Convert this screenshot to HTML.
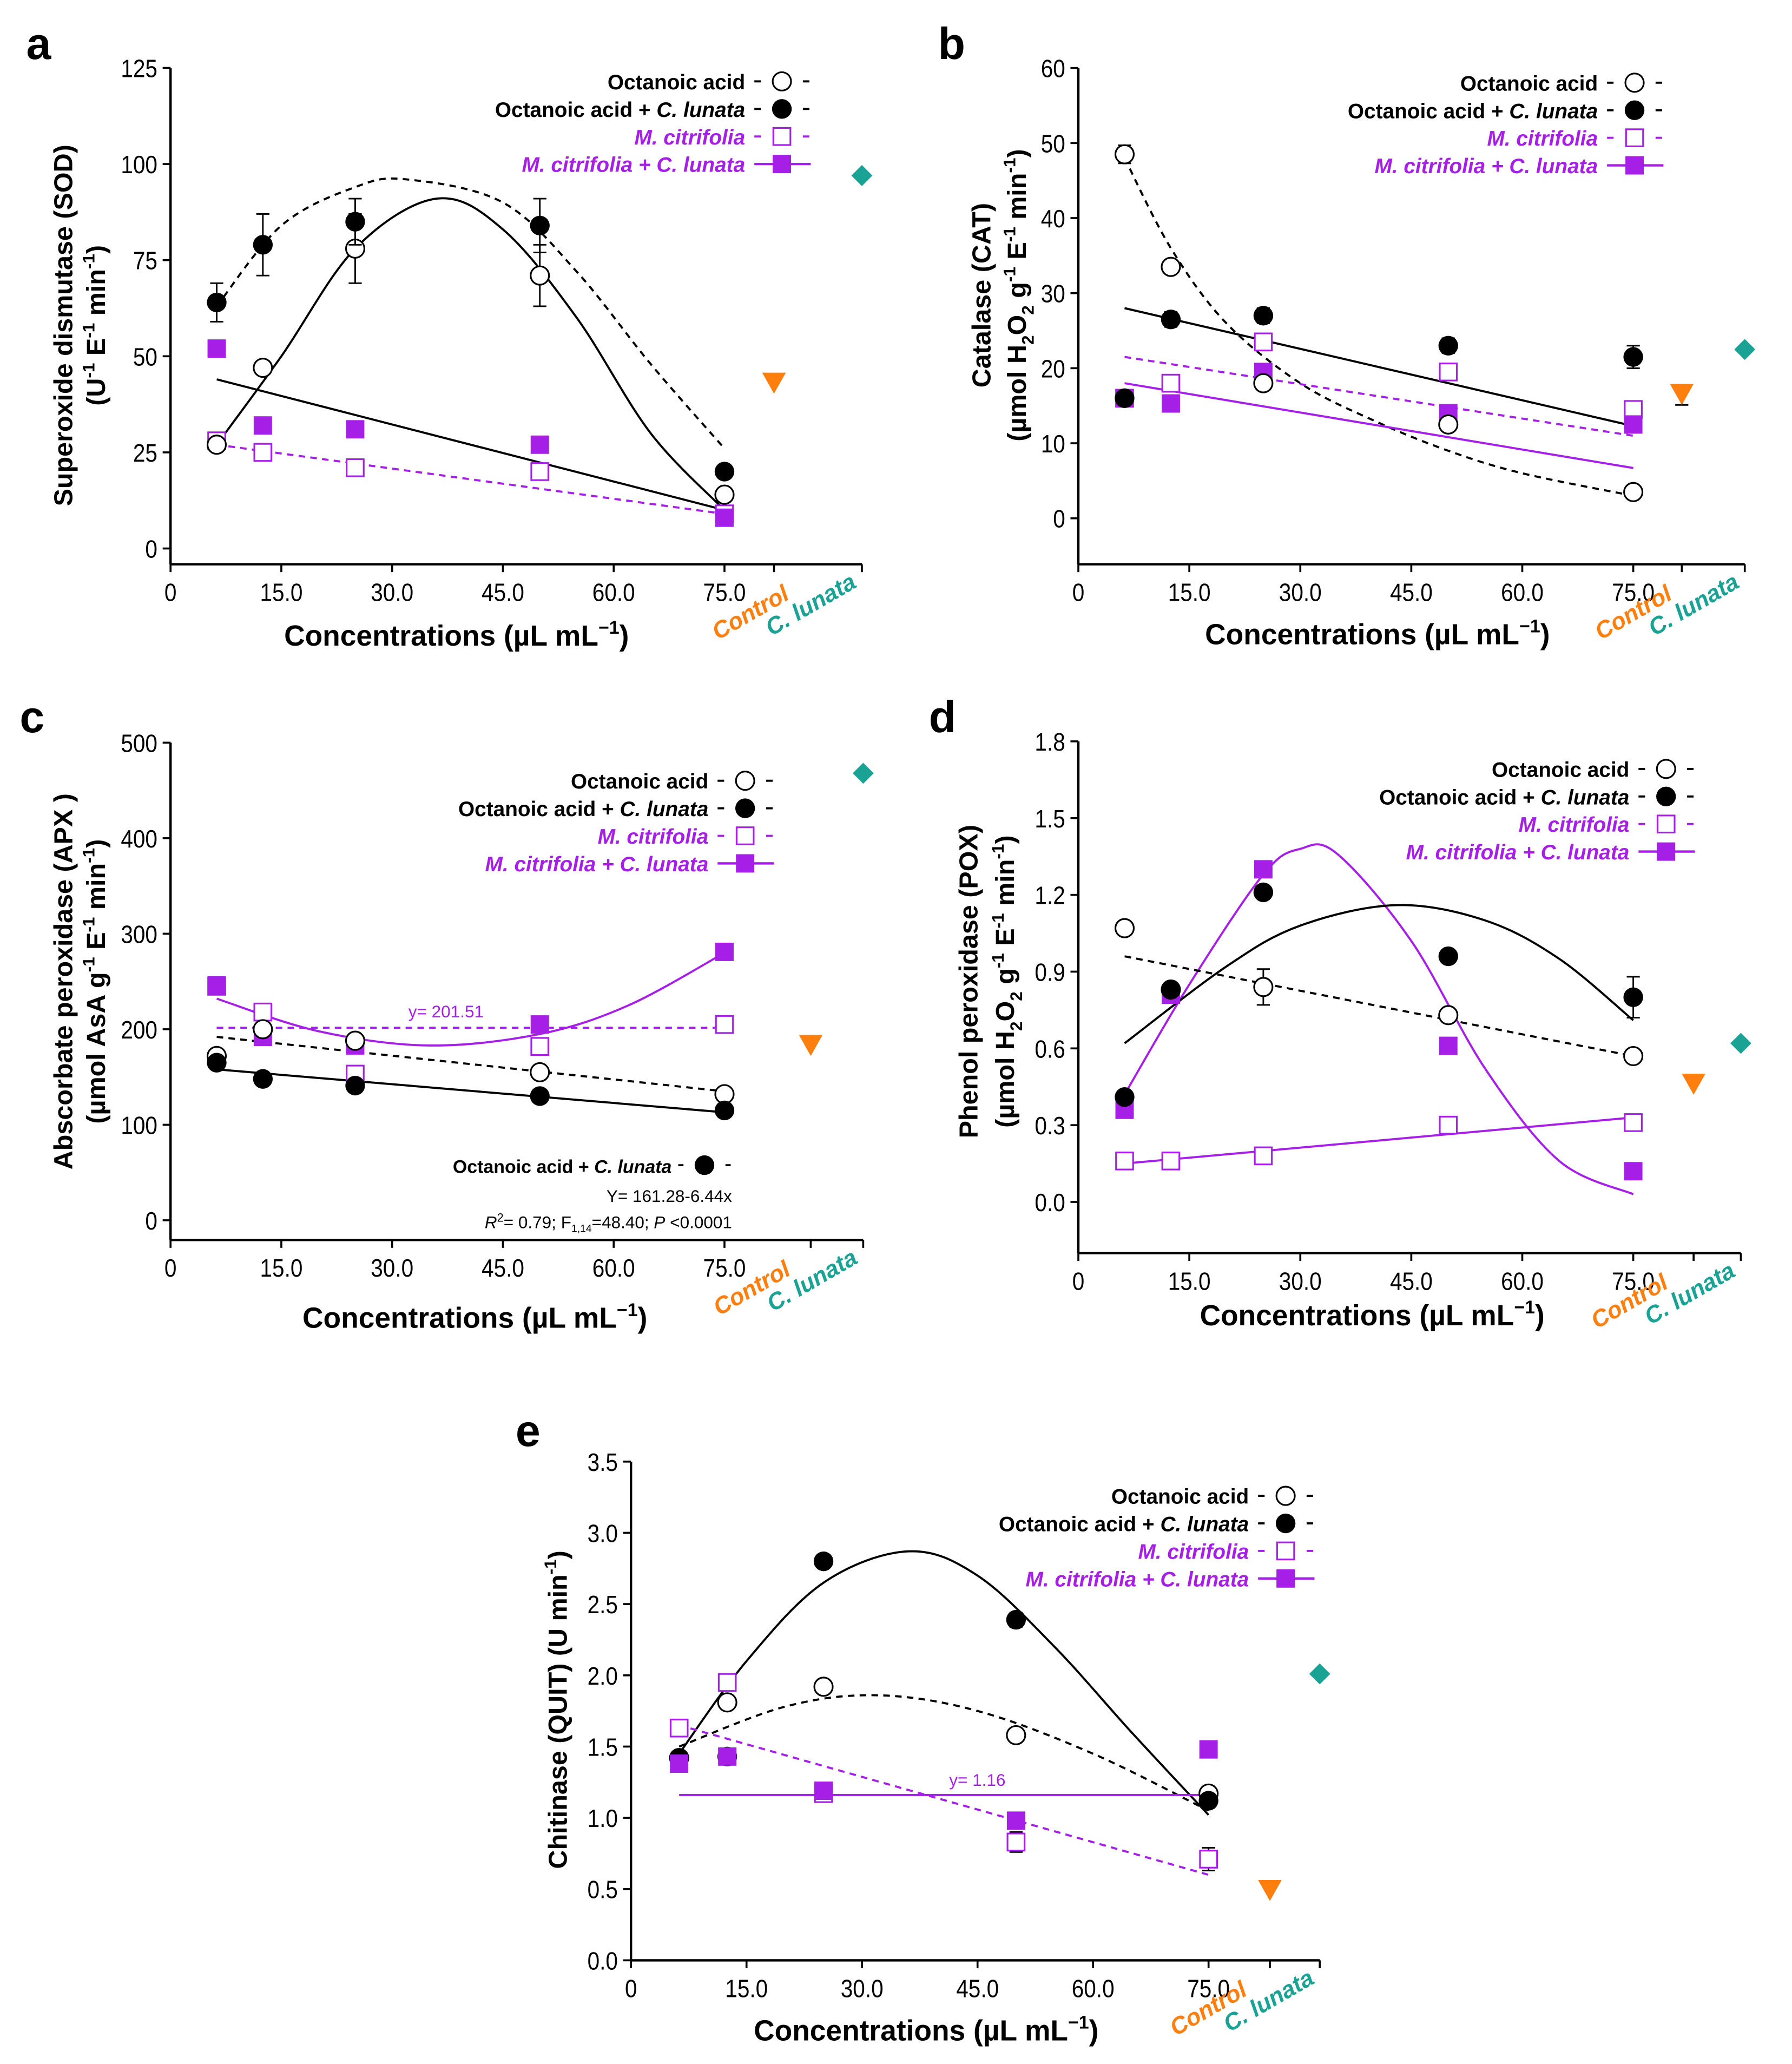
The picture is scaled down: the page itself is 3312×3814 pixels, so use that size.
<!DOCTYPE html>
<html><head><meta charset="utf-8"><style>
html,body{margin:0;padding:0;background:#fff}
svg{display:block}
text{font-family:"Liberation Sans",sans-serif}
</style></head><body>
<svg id="fig" xmlns="http://www.w3.org/2000/svg" width="3312" height="3814" viewBox="0 0 1366 1573">
<rect width="1366" height="1573" fill="#fff"/>
</svg>
<script>
const NS='http://www.w3.org/2000/svg';
const svg=document.getElementById('fig');
const PUR='#a61fe6', ORA='#ff7f0e', TEAL='#1aa394';
const concX=[6.25,12.5,25,50,75];

// ---- Panel a data ----
const aOA=[27,47,78,71,14], aOAe=[0,0,9,8,0];
const aOACL=[64,79,85,84,20], aOACLe=[5,8,6,7,0];
const aMC=[28,25,21,20,9];
const aMCCL=[52,32,31,27,8];
const aCtrl=43, aLun=97;
const aFitDashX=[6.25,15,25,32,45,55,65,75], aFitDashY=[63,84,94,96,90,72,48,26];
const aFitSolidX=[6.25,15,25,36,45,55,65,75], aFitSolidY=[27,50,78,91,83,60,30,10];
const aLinSolid=[44,10], aLinDash=[27,9];
const aYticks=[0,25,50,75,100,125];
// ---- Panel b data ----
const bOA=[48.5,33.5,18,12.5,3.5], bOAe=[1.2,0,0,0,0];
const bOACL=[16,26.5,27,23,21.5], bOACLe=[0,1,1,1,1.5];
const bMC=[16,18,23.5,19.5,14.5];
const bMCCL=[16,15.3,19.5,14,12.5];
const bCtrl=16.5, bLun=22.5;
const bFitDashX=[6.25,12.5,20,30,40,50,60,75], bFitDashY=[48,36,26,18,13,9,6,3];
const bLinBlack=[28,12.3], bLinPurDash=[21.5,11], bLinPurSolid=[18,6.7];
const bYticks=[0,10,20,30,40,50,60];
// ---- Panel c data ----
const cOA=[172,200,188,155,132];
const cOACL=[165,148,141,130,115];
const cMC=[245,218,153,182,205];
const cMCCL=[246,192,183,205,281];
const cCtrl=183, cLun=468;
const cFitPurX=[6.25,20,35,50,62,75], cFitPurY=[232,198,183,195,225,280];
const cHoriz=201.51, cLinDash=[192,135], cLinSolid=[158,113];
const cYticks=[0,100,200,300,400,500];
// ---- Panel d data ----
const dOA=[1.07,0.83,0.84,0.73,0.57], dOAe=[0,0,0.07,0,0];
const dOACL=[0.41,0.83,1.21,0.96,0.80], dOACLe=[0,0,0,0,0.08];
const dMC=[0.16,0.16,0.18,0.30,0.31];
const dMCCL=[0.36,0.81,1.30,0.61,0.12];
const dCtrl=0.46, dLun=0.62;
const dFitPurX=[6.25,15,25,30,35,45,55,65,75], dFitPurY=[0.42,0.85,1.28,1.38,1.36,1.02,0.52,0.16,0.03];
const dFitBlkX=[6.25,20,30,43,55,65,75], dFitBlkY=[0.62,0.92,1.08,1.16,1.10,0.95,0.71];
const dLinDash=[0.96,0.57], dLinPur=[0.15,0.33];
const dYticks=[0,0.3,0.6,0.9,1.2,1.5,1.8];
// ---- Panel e data ----
const eOA=[1.42,1.81,1.92,1.58,1.17];
const eOACL=[1.42,1.43,2.80,2.39,1.12], eOACLe=[0,0,0,0.05,0.05];
const eMC=[1.63,1.95,1.17,0.83,0.71], eMCe=[0,0,0.04,0.07,0.08];
const eMCCL=[1.38,1.43,1.19,0.98,1.48];
const eCtrl=0.49, eLun=2.01;
const eFitBlkX=[6.25,15,25,36,45,55,65,75], eFitBlkY=[1.45,2.1,2.65,2.87,2.7,2.2,1.6,1.02];
const eFitDashX=[6.25,20,32,45,60,75], eFitDashY=[1.5,1.78,1.86,1.75,1.45,1.05];
const eLinPurDash=[1.65,0.6], eHoriz=1.16;
const eYticks=[0,0.5,1.0,1.5,2.0,2.5,3.0,3.5];
const xTickVals=[0,15,30,45,60,75];
const xTickLabels=['0','15.0','30.0','45.0','60.0','75.0'];

function el(tag,attrs,parent){const e=document.createElementNS(NS,tag);for(const k in attrs)e.setAttribute(k,attrs[k]);(parent||svg).appendChild(e);return e;}
function txt(s,attrs,parent){const e=el('text',attrs,parent);e.innerHTML=s;return e;}

function smooth(pts){let d='M'+pts[0][0]+','+pts[0][1];for(let i=0;i<pts.length-1;i++){const p0=pts[Math.max(0,i-1)],p1=pts[i],p2=pts[i+1],p3=pts[Math.min(pts.length-1,i+2)];const c1=[p1[0]+(p2[0]-p0[0])/6,p1[1]+(p2[1]-p0[1])/6],c2=[p2[0]-(p3[0]-p1[0])/6,p2[1]-(p3[1]-p1[1])/6];d+=' C'+c1+' '+c2+' '+p2;}return d;}

function marker(g,type,x,y,name){
  let m;
  if(type==='oc'){m=el('circle',{cx:x,cy:y,r:7,fill:'#fff',stroke:'#000','stroke-width':1.3},g);}
  else if(type==='fc'){m=el('circle',{cx:x,cy:y,r:7.5,fill:'#000'},g);}
  else if(type==='os'){m=el('rect',{x:x-6.5,y:y-6.5,width:13,height:13,fill:'#fff',stroke:PUR,'stroke-width':1.3},g);}
  else if(type==='fs'){m=el('rect',{x:x-7,y:y-7,width:14,height:14,fill:PUR},g);}
  else if(type==='tri'){m=el('path',{d:`M${x-9},${y-8} L${x+9},${y-8} L${x},${y+8} Z`,fill:ORA},g);}
  else if(type==='dia'){m=el('path',{d:`M${x},${y-8} L${x+8},${y} L${x},${y+8} L${x-8},${y} Z`,fill:TEAL},g);}
  
  
  return m;
}

function panel(c){
  const g=el('g',{});
  
  
  const X=v=>c.x0+v*c.xs, Y=v=>c.y0-v*c.ys;
  c.X=X;c.Y=Y;
  const ya=el('line',{x1:c.x0,y1:c.yTop,x2:c.x0,y2:c.yBot,stroke:'#000','stroke-width':1.8},g);
  
  const xa=el('line',{x1:c.x0,y1:c.yBot,x2:c.xEnd,y2:c.yBot,stroke:'#000','stroke-width':1.8},g);
  
  c.yticks.forEach(t=>{const y=Y(t);el('line',{x1:c.x0-6,y1:y,x2:c.x0,y2:y,stroke:'#000','stroke-width':1.5},g);
    const l=txt(c.fmt(t),{x:c.x0-10,y:y+7,'font-size':19,'text-anchor':'end',transform:`translate(${c.x0-10},0) scale(0.88,1) translate(${-(c.x0-10)},0)`},g);
    });
  xTickVals.forEach((t,i)=>{const x=X(t);el('line',{x1:x,y1:c.yBot,x2:x,y2:c.yBot+6,stroke:'#000','stroke-width':1.5},g);
    const l=txt(xTickLabels[i],{x:x,y:c.yBot+28,'font-size':19,'text-anchor':'middle',transform:`translate(${x},0) scale(0.88,1) translate(${-x},0)`},g);
    });
  [c.ctrlX,c.lunX].forEach(x=>el('line',{x1:x,y1:c.yBot,x2:x,y2:c.yBot+6,stroke:'#000','stroke-width':1.5},g));
  const cx1=c.lunX-82, cy1=c.yBot+42, cx2=c.lunX-36, cy2=c.yBot+36;
  const cl=txt('Control',{x:cx1,y:cy1,'font-size':18,'font-weight':'bold','font-style':'italic',fill:ORA,'text-anchor':'middle',transform:`rotate(-30 ${cx1} ${cy1})`},g);
  
  const ll=txt('C. lunata',{x:cx2,y:cy2,'font-size':18,'font-weight':'bold','font-style':'italic',fill:TEAL,'text-anchor':'middle',transform:`rotate(-30 ${cx2} ${cy2})`},g);
  
  const xt=txt('Concentrations (µL mL<tspan dy="-9" font-size="14">−1</tspan><tspan dy="9">)</tspan>',{x:c.xtX,y:c.xtY,'font-size':22,'font-weight':'bold','text-anchor':'middle'},g);
  
  c.ytitles.forEach((s,i)=>{const t=txt(s,{x:c.ytX[i],y:c.ytY,'font-size':20,'font-weight':'bold','text-anchor':'middle',transform:`rotate(-90 ${c.ytX[i]} ${c.ytY})`},g);
    });
  const pl=txt(c.id,{x:c.lx,y:c.ly,'font-size':34,'font-weight':'bold'},g);
  
  const L=c.leg;const rows=[
    ['Octanoic acid','#000','oc','dash','#000'],
    ['Octanoic acid + <tspan font-style="italic">C. lunata</tspan>','#000','fc','dash','#000'],
    ['<tspan font-style="italic">M. citrifolia</tspan>',PUR,'os','dash',PUR],
    ['<tspan font-style="italic">M. citrifolia + C. lunata</tspan>',PUR,'fs','solid',PUR]];
  rows.forEach((r,i)=>{const y=L.y+i*L.dy;
    const lg=el('g',{},g);
    txt(r[0],{x:L.x,y:y+6,'font-size':16,'font-weight':'bold','text-anchor':'end',fill:r[1]},lg);
    if(r[3]==='dash'){el('line',{x1:L.x+7,y1:y,x2:L.x+12,y2:y,stroke:r[4],'stroke-width':1.6},lg);el('line',{x1:L.x+44,y1:y,x2:L.x+49,y2:y,stroke:r[4],'stroke-width':1.6},lg);}
    else el('line',{x1:L.x+7,y1:y,x2:L.x+50,y2:y,stroke:r[4],'stroke-width':1.8},lg);
    marker(lg,r[2],L.x+28,y,'legend-marker');});
  c.g=g;return c;
}
function curve(c,xs,ys,color,dash,name){const p=el('path',{d:smooth(xs.map((x,i)=>[c.X(x),c.Y(ys[i])])),fill:'none',stroke:color,'stroke-width':1.6,'stroke-dasharray':dash?'5,4':'none'},c.g);
  }
function line(c,v,color,dash,name){const p=el('line',{x1:c.X(6.25),y1:c.Y(v[0]),x2:c.X(75),y2:c.Y(v[1]),stroke:color,'stroke-width':1.6,'stroke-dasharray':dash?'5,4':'none'},c.g);
  }
function series(c,vals,errs,type,name){vals.forEach((v,i)=>{const x=c.X(concX[i]),y=c.Y(v);
  if(errs&&errs[i]){const e=errs[i]*c.ys;el('path',{d:`M${x},${y-e}V${y+e}M${x-5},${y-e}H${x+5}M${x-5},${y+e}H${x+5}`,stroke:'#000','stroke-width':1.2,fill:'none'},c.g);}
  marker(c.g,type,x,y,name);});}
function extras(c,ctrl,lun){marker(c.g,'tri',c.ctrlX,c.Y(ctrl),'control-point');marker(c.g,'dia',c.lunX,c.Y(lun),'c-lunata-point');}

const f0=t=>String(t), f1=t=>t.toFixed(1);
// Panel a
const A=panel({id:'a',x0:130,xs:5.63,y0:418,ys:2.93,yTop:52,yBot:430,xEnd:657,ctrlX:590,lunX:657,yticks:aYticks,fmt:f0,
  xtX:348,xtY:492,ytitles:['Superoxide dismutase (SOD)','(U<tspan dy="-8" font-size="13">-1</tspan><tspan dy="8"> E</tspan><tspan dy="-8" font-size="13">-1</tspan><tspan dy="8"> min</tspan><tspan dy="-8" font-size="13">-1</tspan><tspan dy="8">)</tspan>'],ytX:[55,80],ytY:248,lx:20,ly:45,
  leg:{x:568,y:62,dy:21}});
curve(A,aFitDashX,aFitDashY,'#000',true,'fit-octanoic-clunata');
curve(A,aFitSolidX,aFitSolidY,'#000',false,'fit-octanoic');
line(A,aLinSolid,'#000',false,'fit-mcitrifolia-clunata');
line(A,aLinDash,PUR,true,'fit-mcitrifolia');
series(A,aMC,null,'os','mcitrifolia-point');series(A,aMCCL,null,'fs','mcitrifolia-clunata-point');
series(A,aOA,aOAe,'oc','octanoic-point');series(A,aOACL,aOACLe,'fc','octanoic-clunata-point');
extras(A,aCtrl,aLun);
// Panel b
const B=panel({id:'b',x0:822,xs:5.64,y0:395,ys:5.72,yTop:52,yBot:430,xEnd:1330,ctrlX:1282,lunX:1330,yticks:bYticks,fmt:f0,
  xtX:1050,xtY:491,ytitles:['Catalase (CAT)','(µmol H<tspan dy="6" font-size="13">2</tspan><tspan dy="-6">O</tspan><tspan dy="6" font-size="13">2</tspan><tspan dy="-6"> g</tspan><tspan dy="-8" font-size="13">-1</tspan><tspan dy="8"> E</tspan><tspan dy="-8" font-size="13">-1</tspan><tspan dy="8"> min</tspan><tspan dy="-8" font-size="13">-1</tspan><tspan dy="8">)</tspan>'],ytX:[755,782],ytY:225,lx:715,ly:45,
  leg:{x:1218,y:63,dy:21}});
curve(B,bFitDashX,bFitDashY,'#000',true,'fit-octanoic');
line(B,bLinBlack,'#000',false,'fit-octanoic-clunata');
line(B,bLinPurDash,PUR,true,'fit-mcitrifolia');
line(B,bLinPurSolid,PUR,false,'fit-mcitrifolia-clunata');
series(B,bMC,null,'os','mcitrifolia-point');series(B,bMCCL,null,'fs','mcitrifolia-clunata-point');
series(B,bOA,bOAe,'oc','octanoic-point');series(B,bOACL,bOACLe,'fc','octanoic-clunata-point');
el('path',{d:`M${B.ctrlX},${B.Y(bCtrl)-7}V${B.Y(bCtrl)+8}M${B.ctrlX-5},${B.Y(bCtrl)-7}H${B.ctrlX+5}M${B.ctrlX-5},${B.Y(bCtrl)+8}H${B.ctrlX+5}`,stroke:'#000','stroke-width':1.2},B.g);
extras(B,bCtrl,bLun);
// Panel c
const C=panel({id:'c',x0:130,xs:5.63,y0:930,ys:0.728,yTop:566,yBot:945,xEnd:658,ctrlX:618,lunX:658,yticks:cYticks,fmt:f0,
  xtX:362,xtY:1012,ytitles:['Abscorbate peroxidase (APX )','(µmol AsA g<tspan dy="-8" font-size="13">-1</tspan><tspan dy="8"> E</tspan><tspan dy="-8" font-size="13">-1</tspan><tspan dy="8"> min</tspan><tspan dy="-8" font-size="13">-1</tspan><tspan dy="8">)</tspan>'],ytX:[55,80],ytY:748,lx:15,ly:558,
  leg:{x:540,y:595,dy:21}});
curve(C,cFitPurX,cFitPurY,PUR,false,'fit-mcitrifolia-clunata');
const ch=el('line',{x1:C.X(6.25),y1:C.Y(cHoriz),x2:C.X(75),y2:C.Y(cHoriz),stroke:PUR,'stroke-width':1.6,'stroke-dasharray':'5,4'},C.g);


txt('y= '+cHoriz,{x:340,y:C.Y(cHoriz)-8,'font-size':13,fill:PUR,'text-anchor':'middle'},C.g);
line(C,cLinDash,'#000',true,'fit-octanoic');
line(C,cLinSolid,'#000',false,'fit-octanoic-clunata');
series(C,cMC,null,'os','mcitrifolia-point');series(C,cMCCL,null,'fs','mcitrifolia-clunata-point');
series(C,cOA,null,'oc','octanoic-point');series(C,cOACL,null,'fc','octanoic-clunata-point');
extras(C,cCtrl,cLun);
const ann=el('g',{},C.g);
txt('Octanoic acid + <tspan font-style="italic">C. lunata</tspan>',{x:512,y:894,'font-size':14,'font-weight':'bold','text-anchor':'end'},ann);
el('line',{x1:517,y1:888,x2:521,y2:888,stroke:'#000','stroke-width':1.5},ann);el('line',{x1:553,y1:888,x2:557,y2:888,stroke:'#000','stroke-width':1.5},ann);
marker(ann,'fc',537,888,'legend-marker');
txt('Y= 161.28-6.44x',{x:558,y:916,'font-size':13,'text-anchor':'end'},ann);
txt('<tspan font-style="italic">R</tspan><tspan dy="-5" font-size="9">2</tspan><tspan dy="5">= 0.79; F</tspan><tspan dy="3" font-size="8">1,14</tspan><tspan dy="-3">=48.40; </tspan><tspan font-style="italic">P</tspan> &lt;0.0001',{x:558,y:936,'font-size':13,'text-anchor':'end'},ann);
// Panel d
const D=panel({id:'d',x0:822,xs:5.64,y0:916,ys:195,yTop:565,yBot:955,xEnd:1327,ctrlX:1291,lunX:1327,yticks:dYticks,fmt:f1,
  xtX:1046,xtY:1010,ytitles:['Phenol peroxidase (POX)','(µmol H<tspan dy="6" font-size="13">2</tspan><tspan dy="-6">O</tspan><tspan dy="6" font-size="13">2</tspan><tspan dy="-6"> g</tspan><tspan dy="-8" font-size="13">-1</tspan><tspan dy="8"> E</tspan><tspan dy="-8" font-size="13">-1</tspan><tspan dy="8"> min</tspan><tspan dy="-8" font-size="13">-1</tspan><tspan dy="8">)</tspan>'],ytX:[745,773],ytY:748,lx:708,ly:558,
  leg:{x:1242,y:586,dy:21}});
curve(D,dFitPurX,dFitPurY,PUR,false,'fit-mcitrifolia-clunata');
curve(D,dFitBlkX,dFitBlkY,'#000',false,'fit-octanoic-clunata');
line(D,dLinDash,'#000',true,'fit-octanoic');
line(D,dLinPur,PUR,false,'fit-mcitrifolia');
series(D,dMC,null,'os','mcitrifolia-point');series(D,dMCCL,null,'fs','mcitrifolia-clunata-point');
series(D,dOA,dOAe,'oc','octanoic-point');series(D,dOACL,dOACLe,'fc','octanoic-clunata-point');
extras(D,dCtrl,dLun);
// Panel e
const E=panel({id:'e',x0:481,xs:5.87,y0:1494,ys:108.6,yTop:1114,yBot:1494,xEnd:1006,ctrlX:968,lunX:1006,yticks:eYticks,fmt:f1,
  xtX:706,xtY:1555,ytitles:['Chitinase (QUIT) (U min<tspan dy="-8" font-size="13">-1</tspan><tspan dy="8">)</tspan>'],ytX:[432],ytY:1303,lx:393,ly:1102,
  leg:{x:952,y:1140,dy:21}});
curve(E,eFitBlkX,eFitBlkY,'#000',false,'fit-octanoic-clunata');
curve(E,eFitDashX,eFitDashY,'#000',true,'fit-octanoic');
line(E,eLinPurDash,PUR,true,'fit-mcitrifolia');
const eh=el('line',{x1:E.X(6.25),y1:E.Y(eHoriz),x2:E.X(75),y2:E.Y(eHoriz),stroke:PUR,'stroke-width':1.6},E.g);


txt('y= '+eHoriz,{x:745,y:E.Y(eHoriz)-7,'font-size':13,fill:PUR,'text-anchor':'middle'},E.g);
series(E,eOA,null,'oc','octanoic-point');series(E,eOACL,eOACLe,'fc','octanoic-clunata-point');
series(E,eMC,eMCe,'os','mcitrifolia-point');series(E,eMCCL,null,'fs','mcitrifolia-clunata-point');
extras(E,eCtrl,eLun);
</script>
</body></html>
